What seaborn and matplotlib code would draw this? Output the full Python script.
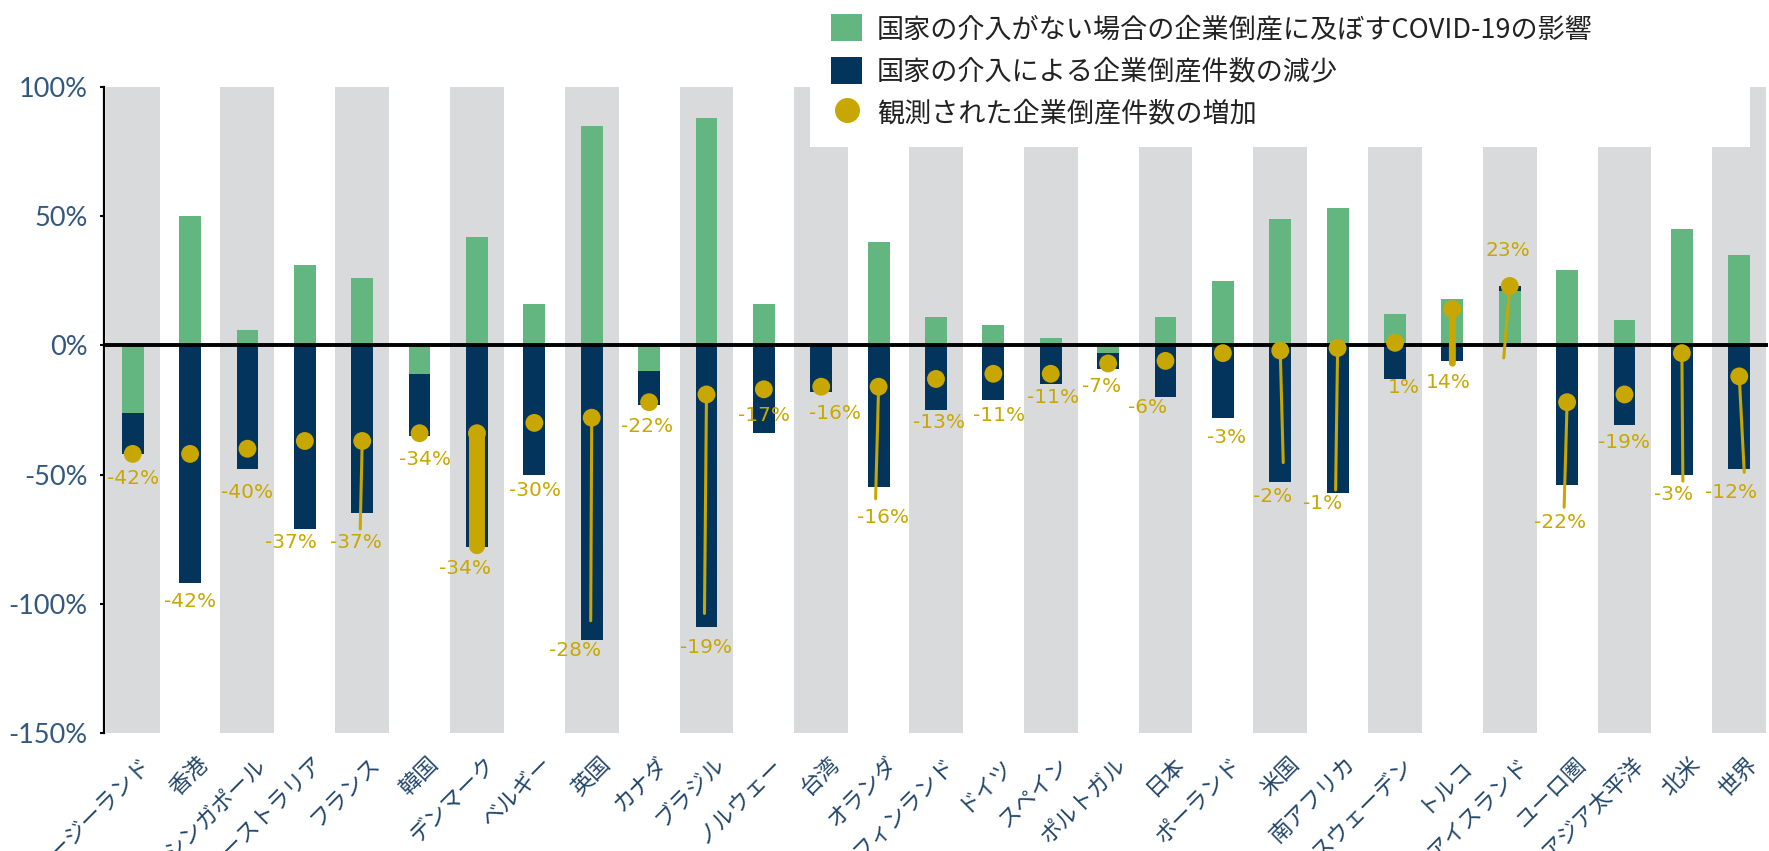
import numpy as np
import pandas as pd
import matplotlib
matplotlib.use("Agg")
import matplotlib.pyplot as plt
import matplotlib.transforms as mtransforms
from matplotlib.patches import Patch, Rectangle
from matplotlib.lines import Line2D
import seaborn as sns

# ---------------------------------------------------------------
# Data (values in %)
# ---------------------------------------------------------------
countries = ["ニュージーランド", "香港", "シンガポール", "オーストラリア", "フランス",
             "韓国", "デンマーク", "ベルギー", "英国", "カナダ", "ブラジル", "ノルウェー",
             "台湾", "オランダ", "フィンランド", "ドイツ", "スペイン", "ポルトガル", "日本",
             "ポーランド", "米国", "南アフリカ", "スウェーデン", "トルコ", "アイスランド",
             "ユーロ圏", "アジア太平洋", "北米", "世界"]

impact_no_support = [-26, 50, 6, 31, 26, -11, 42, 16, 85, -10, 88, 16, 0, 40, 11, 8, 3,
                     -3, 11, 25, 49, 53, 12, 18, 21, 29, 10, 45, 35]
support_effect = [-16, -92, -48, -71, -65, -24, -78, -50, -114, -13, -109, -34, -18, -55,
                  -25, -21, -15, -6, -20, -28, -53, -57, -13, -6, 2, -54, -31, -50, -48]
observed = [-42, -42, -40, -37, -37, -34, -34, -30, -28, -22, -19, -17, -16, -16, -13,
            -11, -11, -7, -6, -3, -2, -1, 1, 14, 23, -22, -19, -3, -12]

legend_labels = ["国家の介入がない場合の企業倒産に及ぼすCOVID-19の影響",
                 "国家の介入による企業倒産件数の減少",
                 "観測された企業倒産件数の増加"]

# ---------------------------------------------------------------
# Layout of the data labels (pixel offsets from the dot, down = +)
# ---------------------------------------------------------------
label_offsets = [(0, 25), (0, 148), (0, 44), (-14, 102), (-6, 102), (5, 26), (-12, 135),
                 (1, 68), (-17, 233), (-2, 24), (0, 253), (0, 26), (14, 27), (4, 131),
                 (3, 44), (6, 42), (2, 24), (-7, 23), (-18, 47), (4, 84), (-8, 146),
                 (-15, 156), (9, 45), (-4, 73), (-2, -35), (-7, 120), (0, 48), (-8, 141),
                 (-8, 116)]
# leader lines: index -> (end offset in pixels, line width)
leaders = {4: ((-2, 88), 2.2), 6: ((0, 113), 11.5), 8: ((-1, 203), 2.2),
           10: ((-2, 219), 2.2), 13: ((-3, 112), 2.2), 20: ((3, 112), 2.2),
           21: ((-2, 142), 2.2), 23: ((0, 54), 5), 24: ((-6, 72), 2.2),
           25: ((-3, 105), 2.2), 27: ((1, 128), 2.2), 28: ((5, 96), 2.2)}

GREEN = "#63B67F"
NAVY = "#03355C"
GOLD = "#C9A702"
BAND = "#D9DADC"

sns.set_theme(style="white")
plt.rcParams['font.family'] = ['Noto Sans CJK JP', 'DejaVu Sans']

xpos = np.arange(len(countries))
green = np.array(impact_no_support, dtype=float)
navy = np.array(support_effect, dtype=float)
# stacked like Excel: same-sign parts stack, opposite signs start at zero
navy_end = np.where(np.sign(navy) == np.sign(green), green + navy, navy)

df = pd.DataFrame({"x": xpos, "green": green, "navy_end": navy_end, "obs": observed})

fig = plt.figure(figsize=(17.69, 8.51), dpi=100)
ax = fig.add_axes([0.0588, 0.1387, 0.9406, 0.7591])

# alternating grey bands
ax.bar(xpos[::2], 250, bottom=-150, width=0.94, color=BAND, zorder=0, linewidth=0)

sns.barplot(data=df, x="x", y="navy_end", color=NAVY, saturation=1, width=0.38,
            linewidth=0, ax=ax, zorder=1)
sns.barplot(data=df, x="x", y="green", color=GREEN, saturation=1, width=0.38,
            linewidth=0, ax=ax, zorder=2)

ax.axhline(0, color="black", lw=2.8, zorder=3)

for i, v in enumerate(observed):
    if i in leaders:
        (ex, ey), lw = leaders[i]
        ax.annotate("", xy=(i, v), xytext=(ex, -ey), textcoords="offset pixels",
                    arrowprops=dict(arrowstyle="-", color=GOLD, lw=lw,
                                    shrinkA=0, shrinkB=0), zorder=4)

sns.scatterplot(data=df, x="x", y="obs", s=165, color=GOLD, edgecolor="none",
                ax=ax, zorder=5, legend=False)

for i, v in enumerate(observed):
    dx, dy = label_offsets[i]
    ax.annotate(f"{v}%", xy=(i, v), xytext=(dx, -dy), textcoords="offset pixels",
                ha="center", va="center", color=GOLD, fontsize=14.5,
                family=["DejaVu Sans"], zorder=6)

ax.set_xlim(-0.5, len(countries) - 0.5)
ax.set_ylim(-150, 100)
ax.set_xlabel("")
ax.set_ylabel("")

yticks = [-150, -100, -50, 0, 50, 100]
ax.set_yticks(yticks)
ax.set_yticklabels([f"{t}%" for t in yticks], color="#33587D", fontsize=19.5,
                   family=["Lato", "DejaVu Sans"])
ax.tick_params(axis="y", left=True, length=3, width=1.5, color="black", pad=9)

ax.set_xticks(xpos)
ax.set_xticklabels(countries, rotation=45, ha="right", va="center",
                   rotation_mode="anchor", color="#23476B", fontsize=16)
ax.tick_params(axis="x", bottom=False, pad=14)
shift = mtransforms.ScaledTranslation(0.15, 0, fig.dpi_scale_trans)
for lab in ax.get_xticklabels():
    lab.set_transform(lab.get_transform() + shift)

for s in ["top", "right", "bottom"]:
    ax.spines[s].set_visible(False)
ax.spines["left"].set_color("black")
ax.spines["left"].set_linewidth(1.6)
ax.grid(False)

# white legend area covering the top of the bands
fig.patches.append(Rectangle((0.458, 0.8273), 0.531, 0.1727, transform=fig.transFigure,
                             facecolor="white", edgecolor="none", zorder=2))

handles = [Patch(facecolor=GREEN, edgecolor="none"),
           Patch(facecolor=NAVY, edgecolor="none"),
           Line2D([], [], marker="o", color=GOLD, linestyle="none", markersize=17)]
fig.legend(handles, legend_labels, loc="upper left", bbox_to_anchor=(0.4698, 0.983),
           frameon=False, fontsize=19.5, handlelength=1.15, handleheight=1.15,
           handletextpad=0.55, labelspacing=0.5, borderpad=0, borderaxespad=0,
           labelcolor="#222222")

fig.savefig("out.png", dpi=100)
